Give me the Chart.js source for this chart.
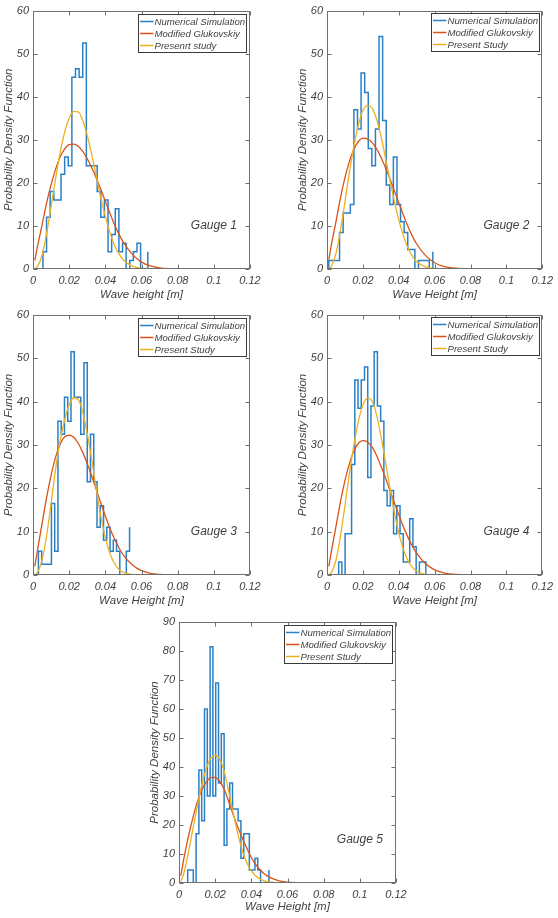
<!DOCTYPE html>
<html lang="en">
<head>
<meta charset="utf-8">
<title>Wave height PDF - gauges 1-5</title>
<script src="https://cdn.jsdelivr.net/npm/chart.js@4.4.1/dist/chart.umd.min.js"></script>
<style>
  html, body { margin: 0; padding: 0; background: #fff; }
  body { width: 558px; height: 918px; position: relative; overflow: hidden; }
  canvas { position: absolute; }
</style>
</head>
<body>
<canvas id="g1" width="280" height="302" style="left:0px;top:0px"></canvas>
<canvas id="g2" width="278" height="302" style="left:280px;top:0px"></canvas>
<canvas id="g3" width="280" height="306" style="left:0px;top:302px"></canvas>
<canvas id="g4" width="278" height="306" style="left:280px;top:302px"></canvas>
<canvas id="g5" width="280" height="310" style="left:140px;top:608px"></canvas>
<script>
// ---- data ----
const xTickLabels = ['0', '0.02', '0.04', '0.06', '0.08', '0.1', '0.12'];
const yTickLabels60 = ['0', '10', '20', '30', '40', '50', '60'];
const yTickLabels90 = ['0', '10', '20', '30', '40', '50', '60', '70', '80', '90'];

const gaugeNames = ['Gauge 1', 'Gauge 2', 'Gauge 3', 'Gauge 4', 'Gauge 5'];
const xTitles = ['Wave height [m]', 'Wave Height [m]', 'Wave Height [m]', 'Wave Height [m]', 'Wave Height [m]'];
const simLabel = 'Numerical Simulation';
const glukLabel = 'Modified Glukovskiy';
const presentLabels = ['Presenrt study', 'Present Study', 'Present Study', 'Present Study', 'Present Study'];

// histogram (stairs): first edge, bin width, density per bin (last value = final riser)
const g1Start = 0.0055, g1Width = 0.002;
const g1Hist = [4, 12, 18, 16, 16, 22, 26, 24, 44.5, 46.5, 44.5, 52.5, 24, 24, 24, 18, 12, 16, 4, 8, 14, 4, 6, 0, 2, 4, 6, 0, 0, 4];
const g2Start = 0.001, g2Width = 0.002;
const g2Hist = [2, 2, 2, 8.5, 13, 13, 15, 37, 32.5, 45.5, 41, 28, 24, 32.5, 54, 34.5, 19.5, 15, 26, 15, 11, 8.5, 4.5, 4.5, 0, 2, 2, 2, 0, 4];
const g3Start = 0.003, g3Width = 0.0018;
const g3Hist = [5.5, 2.5, 2.5, 2.5, 16.5, 5.5, 35.5, 32.5, 41, 35.5, 51.5, 41, 41, 32.5, 49, 21.5, 32.5, 21.5, 11, 16, 8, 11, 5.5, 8, 5.5, 0, 0, 5.5, 11];
const g4Start = 0.0065, g4Width = 0.0018;
const g4Hist = [3, 0, 9.5, 9.5, 25.5, 45, 38.5, 45, 48, 22.5, 39, 51.5, 39, 35.5, 19.5, 16, 19.5, 9.5, 16, 9.5, 3, 3, 13, 6.5, 0, 3, 3, 0];
const g5Start = 0.0048, g5Width = 0.00155;
const g5Hist = [4.5, 4.5, 0, 17, 39, 21.5, 60, 30, 81.5, 30, 69, 34.5, 51.5, 13, 25.5, 34.5, 25.5, 25.5, 21.5, 8.5, 17, 17, 4.5, 4.5, 8.5, 4.5, 0, 0, 0, 4.5];

// fitted curves, sampled at curveX
const curveX = [0.001, 0.0025, 0.005, 0.0075, 0.01, 0.0125, 0.015, 0.0175, 0.02, 0.0225, 0.025, 0.0275, 0.03, 0.0325, 0.035, 0.0375, 0.04, 0.0425, 0.045, 0.0475, 0.05, 0.055, 0.06, 0.065, 0.07, 0.075, 0.08, 0.09, 0.1];
const g1Gluk = [2.0, 5.3, 10.2, 15.3, 19.6, 23.2, 26, 27.9, 28.9, 29.0, 28.5, 27.3, 25.6, 23.5, 21.1, 18.5, 15.7, 13, 10.4, 8.1, 6.2, 3.4, 1.6, 0.7, 0.28, 0.1, 0.03, 0, 0];
const g1Present = [0.1, 0.6, 3.2, 8.2, 14.5, 21, 27, 31.8, 35, 36.6, 36.5, 34.5, 31, 26.5, 21.5, 16.5, 12.2, 8.5, 5.6, 3.5, 2.1, 0.65, 0.17, 0.04, 0, 0, 0, 0, 0];
const g2Gluk = [2.2, 5.8, 11, 16.5, 21.2, 25, 27.8, 29.6, 30.4, 30.2, 29.4, 28, 26, 23.6, 21, 18.2, 15.4, 12.6, 10, 7.7, 5.8, 3.1, 1.45, 0.6, 0.24, 0.09, 0.03, 0, 0];
const g2Present = [0.1, 0.7, 3.6, 9, 15.6, 22.5, 28.6, 33.5, 36.8, 38, 37.4, 35, 31, 26, 20.8, 15.8, 11.4, 7.8, 5, 3, 1.7, 0.5, 0.12, 0.03, 0, 0, 0, 0, 0];
const g3Gluk = [2.0, 5.8, 11.8, 17.8, 23, 27.2, 30.2, 31.9, 32.3, 31.8, 30.4, 28.3, 25.7, 22.8, 19.7, 16.6, 13.6, 10.8, 8.4, 6.3, 4.6, 2.3, 1, 0.4, 0.15, 0.05, 0.015, 0, 0];
const g3Present = [0.1, 0.6, 3.5, 9, 16.5, 24.5, 31, 35.8, 39.3, 40.9, 40.5, 37.6, 32.6, 26.5, 19.8, 13.6, 8.6, 5, 2.7, 1.3, 0.6, 0.1, 0.02, 0, 0, 0, 0, 0, 0];
const g4Gluk = [2.0, 5.6, 11.2, 16.9, 21.8, 25.7, 28.6, 30.4, 31, 30.7, 29.6, 27.7, 25.2, 22.5, 19.6, 16.7, 13.9, 11.2, 8.8, 6.7, 5, 2.6, 1.2, 0.5, 0.2, 0.07, 0.02, 0, 0];
const g4Present = [0.1, 0.6, 3.4, 9, 16, 23.5, 30, 35.5, 39.2, 40.8, 40.2, 37.2, 32.2, 26.4, 20.3, 14.6, 9.7, 6, 3.4, 1.8, 0.85, 0.15, 0.02, 0, 0, 0, 0, 0, 0];
const g5Gluk = [2.5, 7.8, 15.5, 22, 27.7, 32, 34.7, 36.3, 36.4, 35, 32.3, 28, 23.5, 19.3, 15.5, 12, 8.8, 6.3, 4.4, 3, 2, 0.8, 0.3, 0.1, 0.03, 0, 0, 0, 0];
const g5Present = [0.5, 3, 10, 18, 26, 33.5, 39.3, 43, 44, 42.6, 38.5, 31.5, 24, 17, 11.2, 7, 4.2, 2.4, 1.3, 0.65, 0.3, 0.06, 0.01, 0, 0, 0, 0, 0, 0];

// ---- styling ----
const fontFamily = "'Liberation Sans', Arial, sans-serif";
const textColor = '#3f3f3f';
const frameColor = '#6f6f6f';
const blue = '#2b80c5', red = '#d95319', yellow = '#edb120';

function stairs(start, width, values) {
  const pts = [{ x: start, y: 0 }];
  values.forEach((v, i) => pts.push({ x: start + i * width, y: v }));
  return pts;
}
function curve(values) {
  return curveX.map((x, i) => ({ x: x, y: values[i] }));
}

// draws the MATLAB style box, inward ticks, gauge name and legend
const matlabLook = {
  id: 'matlabLook',
  afterDraw(chart) {
    const o = chart.options.plugins.matlabLook;
    const { ctx, chartArea: a } = chart;
    const xs = chart.scales.x, ys = chart.scales.y;
    const L = Math.round(a.left) + 0.5, R = Math.round(a.right) - 0.5;
    const T = Math.round(a.top) + 0.5, B = Math.round(a.bottom) - 0.5;
    ctx.save();
    ctx.strokeStyle = frameColor;
    ctx.lineWidth = 1;
    ctx.beginPath();
    xs.ticks.forEach(t => {
      const p = Math.round(xs.getPixelForValue(t.value)) + 0.5;
      ctx.moveTo(p, B); ctx.lineTo(p, B - 4);
      ctx.moveTo(p, T); ctx.lineTo(p, T + 4);
    });
    ys.ticks.forEach(t => {
      const p = Math.round(ys.getPixelForValue(t.value)) + 0.5;
      ctx.moveTo(L, p); ctx.lineTo(L + 4, p);
      ctx.moveTo(R, p); ctx.lineTo(R - 4, p);
    });
    ctx.stroke();
    ctx.strokeRect(L, T, R - L, B - T);

    // gauge name inside the axes
    ctx.fillStyle = textColor;
    ctx.font = 'italic 12px ' + fontFamily;
    ctx.textAlign = 'center';
    ctx.textBaseline = 'middle';
    ctx.fillText(o.name, xs.getPixelForValue(0.1), ys.getPixelForValue(ys.max / 6));

    // legend box, top right
    const w = 108, h = 38;
    const bx = Math.round(a.right) - o.legendInset - w + 0.5;
    const by = Math.round(a.top) + o.legendInset - 1 + 0.5;
    ctx.fillStyle = '#fff';
    ctx.fillRect(bx, by, w, h);
    ctx.strokeStyle = '#3a3a3a';
    ctx.strokeRect(bx, by, w, h);
    ctx.font = 'italic 9.6px ' + fontFamily;
    ctx.textAlign = 'left';
    chart.data.datasets.forEach((ds, i) => {
      const yy = by + 7 + 12 * i;
      ctx.strokeStyle = ds.borderColor;
      ctx.lineWidth = 1.5;
      ctx.beginPath();
      ctx.moveTo(bx + 1.5, yy);
      ctx.lineTo(bx + 15, yy);
      ctx.stroke();
      ctx.fillStyle = textColor;
      ctx.fillText(ds.label, bx + 16, yy + 0.5);
    });
    ctx.restore();
  }
};

function makeChart(id, n, hist, gluk, present, yMax, yLabels, pad, xAxisH, titleBottom, legendInset) {
  return new Chart(document.getElementById(id), {
    type: 'line',
    data: {
      datasets: [
        { label: simLabel, data: hist, borderColor: blue, borderWidth: 1.5, stepped: 'before', pointRadius: 0, fill: false, order: 3 },
        { label: glukLabel, data: gluk, borderColor: red, borderWidth: 1.3, cubicInterpolationMode: 'monotone', pointRadius: 0, fill: false, order: 2 },
        { label: presentLabels[n], data: present, borderColor: yellow, borderWidth: 1.3, cubicInterpolationMode: 'monotone', pointRadius: 0, fill: false, order: 1 }
      ]
    },
    options: {
      responsive: false,
      animation: false,
      devicePixelRatio: 1,
      events: [],
      layout: { padding: pad },
      plugins: {
        legend: { display: false },
        tooltip: { enabled: false },
        matlabLook: { name: gaugeNames[n], legendInset: legendInset }
      },
      scales: {
        x: {
          type: 'linear', min: 0, max: 0.12,
          grid: { display: false, drawTicks: false },
          border: { display: false },
          ticks: {
            stepSize: 0.02, padding: 5, maxRotation: 0, autoSkip: false,
            color: textColor, font: { family: fontFamily, size: 11, style: 'italic' },
            callback: v => xTickLabels[Math.round(v / 0.02)]
          },
          title: {
            display: true, text: xTitles[n], color: textColor,
            font: { family: fontFamily, size: 11.5, style: 'italic' },
            padding: { top: 0, bottom: titleBottom }
          },
          afterFit: s => { s.height = xAxisH; }
        },
        y: {
          min: 0, max: yMax,
          grid: { display: false, drawTicks: false },
          border: { display: false },
          ticks: {
            stepSize: 10, padding: 4,
            color: textColor, font: { family: fontFamily, size: 11, style: 'italic' },
            callback: v => yLabels[Math.round(v / 10)]
          },
          title: {
            display: true, text: 'Probability Density Function', color: textColor,
            font: { family: fontFamily, size: 11.5, style: 'italic' },
            padding: { top: 2, bottom: 0 }
          },
          afterFit: s => { s.width = 33; }
        }
      }
    },
    plugins: [matlabLook]
  });
}

makeChart('g1', 0, stairs(g1Start, g1Width, g1Hist), curve(g1Gluk), curve(g1Present), 60, yTickLabels60,
  { left: 0, top: 10, right: 30, bottom: 0 }, 33, 0, 4);
makeChart('g2', 1, stairs(g2Start, g2Width, g2Hist), curve(g2Gluk), curve(g2Present), 60, yTickLabels60,
  { left: 14, top: 10, right: 15, bottom: 0 }, 33, 0, 3);
makeChart('g3', 2, stairs(g3Start, g3Width, g3Hist), curve(g3Gluk), curve(g3Present), 60, yTickLabels60,
  { left: 0, top: 13, right: 30, bottom: 0 }, 33, 0, 4);
makeChart('g4', 3, stairs(g4Start, g4Width, g4Hist), curve(g4Gluk), curve(g4Present), 60, yTickLabels60,
  { left: 14, top: 13, right: 14, bottom: 0 }, 33, 0, 3);
makeChart('g5', 4, stairs(g5Start, g5Width, g5Hist), curve(g5Gluk), curve(g5Present), 90, yTickLabels90,
  { left: 6, top: 14, right: 24, bottom: 0 }, 35, 4, 4);
</script>
</body>
</html>
